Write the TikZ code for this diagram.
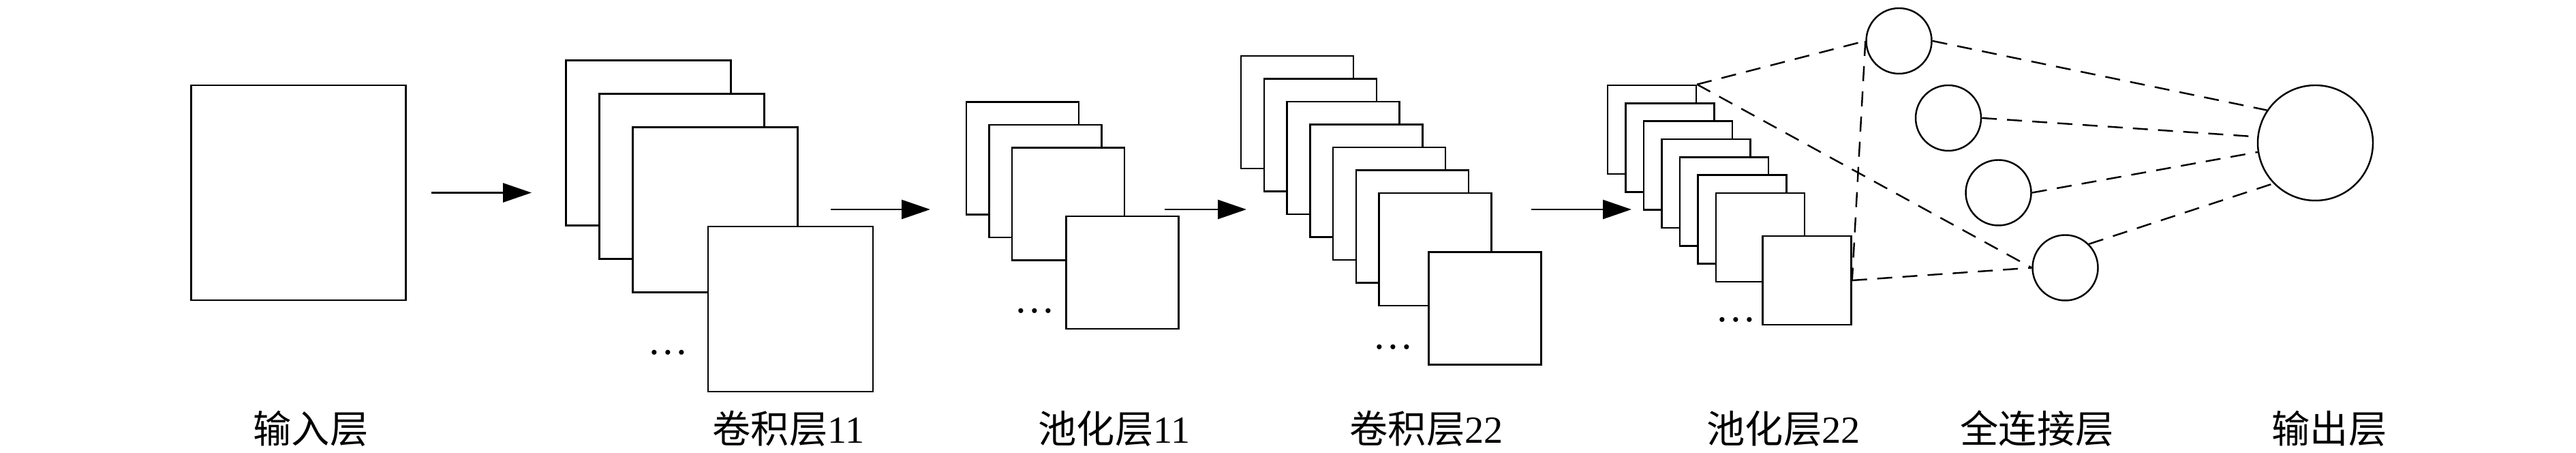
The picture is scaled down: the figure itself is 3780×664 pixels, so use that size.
\documentclass[tikz,border=0pt]{standalone}
\usepackage{fontspec}
\setmainfont{Liberation Serif}
\newfontfamily\cjk{Noto Sans CJK SC}
\usetikzlibrary{arrows.meta}

\begin{document}
\begin{tikzpicture}[x=0.1mm, y=0.1mm, line width=0.7pt,
    fmap/.style={draw, fill=white, minimum size=#1, inner sep=0pt},
    unit/.style={draw, circle, fill=white, minimum size=#1, inner sep=0pt},
    flow/.style={-{Triangle[length=4.2mm, width=2.8mm]}, line width=0.8pt},
    link/.style={dash pattern=on 2.2mm off 1.5mm},
    layer/.style={font=\fontsize{16pt}{19pt}\selectfont, inner sep=0pt},
    more/.style={font=\fontsize{17pt}{19pt}\selectfont, inner sep=0pt}]
    \useasboundingbox (0,0) rectangle (3780,664);

    \node[fmap=31.5mm] (inp) at (438,381.5) {};

    \foreach \i in {0,1,2}
    {
        \node[fmap=24.2mm] (c1-\i) at ({951.5+49*\i},{454.5-49*\i}) {};
    }
    \node[fmap=24.2mm] (c1f) at (1160,211) {};

    \foreach \i in {0,1,2}
    {
        \node[fmap=16.5mm] (p1-\i) at ({1500.5+33.5*\i},{432-33.5*\i}) {};
    }
    \node[fmap=16.5mm] (p1f) at (1647,264.5) {};

    \foreach \i in {0,...,6}
    {
        \node[fmap=16.5mm] (c2-\i) at ({1903.5+33.75*\i},{499.5-33.5*\i}) {};
    }
    \node[fmap=16.5mm] (c2f) at (2179,212) {};

    \foreach \i in {0,...,6}
    {
        \node[fmap=13mm] (p2-\i) at ({2424+26.5*\i},{474-26.33*\i}) {};
    }
    \node[fmap=13mm] (p2f) at (2651.5,253) {};

    \foreach \x/\y [count=\k] in {980/147, 1518/208, 2044/155, 2547/195}
    {
        \node[more] (dots\k) at (\x,\y) {\ldots};
    }

    \foreach \s/\e/\y [count=\k] in {633/780/381.5, 1219/1365/357, 1709/1829/357, 2247/2394/357}
    {
        \coordinate (a\k-in) at (\s,\y);
        \coordinate (a\k-out) at (\e,\y);
        \draw[flow] (a\k-in) -- (a\k-out);
    }

    \foreach \x/\y [count=\k] in {2786.5/604, 2859/491, 2932.5/381.5, 3030.5/271.5}
    {
        \node[unit=9.6mm] (n\k) at (\x,\y) {};
    }
    \node[unit=16.9mm] (out) at (3397.5,454.5) {};

    \draw[link] (p2-0.north east) -- (n1.west);
    \draw[link] (p2-0.north east) -- (n4.west);
    \draw[link] (n1.west) -- (p2f.east);
    \draw[link] (p2f.east) -- (n4.west);
    \draw[link] (n1.east) -- (out.146);
    \draw[link] (n2.east) -- (out.174);
    \draw[link] (n3.east) -- (out.189);
    \draw[link] (n4.north east) -- (out.224);

    \node[layer] (l-inp) at (456,36) {{\cjk 输入层}};
    \node[layer] (l-c1) at (1157,36) {{\cjk 卷积层}11};
    \node[layer] (l-p1) at (1635,36) {{\cjk 池化层}11};
    \node[layer] (l-c2) at (2093,36) {{\cjk 卷积层}22};
    \node[layer] (l-p2) at (2617,36) {{\cjk 池化层}22};
    \node[layer] (l-fc) at (2989,36) {{\cjk 全连接层}};
    \node[layer] (l-out) at (3418,36) {{\cjk 输出层}};
\end{tikzpicture}
\end{document}
